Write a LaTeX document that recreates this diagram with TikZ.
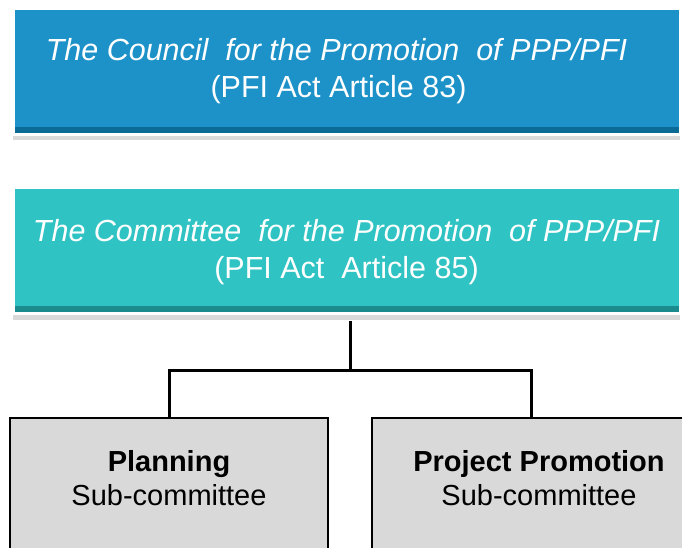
\documentclass[tikz,border=0pt]{standalone}
\usepackage{fontspec}
\setmainfont{Liberation Sans}
\usetikzlibrary{shadows}
\definecolor{councilblue}{RGB}{28,146,200}
\definecolor{councildark}{RGB}{10,104,148}
\definecolor{committeeteal}{RGB}{48,195,195}
\definecolor{committeedark}{RGB}{26,136,138}
\definecolor{subgray}{RGB}{217,217,217}
\tikzset{
  bigbox/.style 2 args={draw=white, line width=3pt, fill=#1,
    minimum width=667pt, minimum height=126pt, align=center, text=white,
    font=\fontsize{30.5}{37}\selectfont,
    drop shadow={opacity=.3, shadow xshift=0pt, shadow yshift=-6pt},
    path picture={\shade[top color=#1, bottom color=#2]
      ([yshift=7pt]path picture bounding box.south west) rectangle
      (path picture bounding box.south east);}},
  subbox/.style={draw=black, line width=1.5pt, fill=subgray,
    minimum width=318pt, minimum height=134pt, align=center,
    text depth=14pt, font=\fontsize{29}{34}\selectfont},
  link/.style={line width=3pt}
}
\begin{document}
\begin{tikzpicture}[x=1pt, y=-1pt]
\clip (0,0) rectangle (682,547);

\node[bigbox={councilblue}{councildark}, text depth=6pt] (council) at (346.5,71)
  {\textit{The Council\ \ for the Promotion\ \ of PPP/PFI}\hspace*{20pt}\\(PFI Act Article 83)\hspace*{16pt}};
\node[bigbox={committeeteal}{committeedark}, text depth=4pt] (committee) at (346.5,250.5)
  {\textit{The Committee\ \ for the Promotion\ \ of PPP/PFI}\\(PFI Act\ \ Article 85)};

\node[subbox] (planning) at (169,485) {\textbf{Planning}\\Sub-committee};
\node[subbox, minimum width=334pt] (promotion) at (539,485) {\textbf{Project Promotion}\\Sub-committee};

\coordinate (hub) at (350,370);
\draw[link, shorten <=6pt] (committee.south -| hub) -- (hub);
\draw[link] (planning.north) |- (hub) -| ([xshift=-8pt]promotion.north);

\end{tikzpicture}
\end{document}
